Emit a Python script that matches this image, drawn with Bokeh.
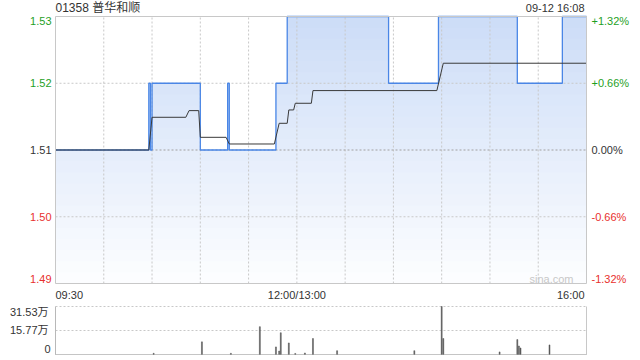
import numpy as np
from bokeh.plotting import figure
from bokeh.models import Range1d, Label
from bokeh.embed import file_html
from bokeh.resources import INLINE

# ---------------- data ----------------
title_text = "01358 普华和顺"
stamp_text = "09-12 16:08"
prev_close = 1.51

price_ticks = [1.53, 1.52, 1.51, 1.50, 1.49]
price_tick_labels = ["1.53", "1.52", "1.51", "1.50", "1.49"]
pct_tick_labels = ["+1.32%", "+0.66%", "0.00%", "-0.66%", "-1.32%"]

time_ticks = [0, 150, 330]          # trading minutes since 09:30 (lunch removed)
time_tick_labels = ["09:30", "12:00/13:00", "16:00"]

vol_ticks = [31.53, 15.77, 0]
vol_tick_labels = ["31.53万", "15.77万", "0"]

# last price: minute at which the price changes, and the new price
price_minute = [0, 58, 59, 60, 90, 107, 108, 137, 144, 207, 238, 287, 315, 330]
price_value = [1.51, 1.52, 1.51, 1.52, 1.51, 1.52, 1.51, 1.52, 1.53, 1.52, 1.53, 1.52, 1.53, 1.53]

# average price
avg_minute = [0, 58, 60, 81, 83, 89, 90, 106, 108, 136, 139, 144, 145, 148, 149, 159, 160, 237, 241, 330]
avg_value = [1.51, 1.51, 1.5149, 1.5149, 1.5159, 1.5159, 1.5119, 1.5119, 1.5109, 1.5109,
             1.5140, 1.5140, 1.5160, 1.5160, 1.5170, 1.5170, 1.5189, 1.5189, 1.5230, 1.5230]

# volume (万股)
vol_minute = [61, 91, 109, 127, 137, 139, 140, 145, 149, 155, 160, 175, 223, 240, 241, 276, 287, 288, 289, 307]
vol_value = [0.8, 8.3, 0.8, 18.3, 5.0, 2.3, 14.3, 7.6, 0.7, 1.0, 10.5, 2.5, 2.5, 31.53, 10.5, 1.7, 9.8, 5.6, 4.3, 6.3]

# ---------------- layout / styling ----------------
FONT = "Liberation Sans, Noto Sans CJK SC"
GREEN = "#1f9f1f"
RED = "#e8302e"
DARK = "#333333"
GRID = "#c8c8c8"
T0, T1 = 0, 330
YLO, YHI = 1.49, 1.53
VLO, VHI = 0, vol_ticks[0]

W, H = 640, 360
FX0, FX1 = 55, 586          # plotting area (pixels) inside the canvas
PY0, PY1 = 16, 283          # price panel top / bottom
VY0, VY1 = 306, 354         # volume panel top / bottom


def xr():
    k = (T1 - T0) / (FX1 - FX0)
    return Range1d(T0 - FX0 * k, T1 + (W - FX1) * k)


def yr(lo, hi, top, bot):
    k = (hi - lo) / (bot - top)
    return Range1d(lo - (H - bot) * k, hi + top * k)


p = figure(width=W, height=H, output_backend="svg", toolbar_location=None,
           x_axis_location=None, y_axis_location=None, title=None,
           x_range=xr(), y_range=yr(YLO, YHI, PY0, PY1), min_border=0)
p.extra_y_ranges = {"vol": yr(VLO, VHI, VY0, VY1)}
p.grid.visible = False
p.outline_line_color = None
p.background_fill_color = "white"
p.border_fill_color = "white"


def lab(x, y, text, align="left", xo=0, yo=0, size="11px", color=DARK, rng="default"):
    p.add_layout(Label(x=x, y=y, x_offset=xo, y_offset=yo, text=text, text_align=align,
                       text_baseline="middle", text_font_size=size, text_color=color,
                       text_font=FONT, y_range_name=rng))


# step coordinates of the price line
sx, sy = [price_minute[0]], [price_value[0]]
for t, val in zip(price_minute[1:], price_value[1:]):
    sx += [t, t]
    sy += [sy[-1], val]
sx = np.array(sx, dtype=float)
sy = np.array(sy, dtype=float)

# gradient fill under the price line (top band first, lower bands drawn over it)
nb = 24
edges = np.linspace(YLO, YHI, nb + 1)
top_rgb = np.array([204, 220, 247])
bot_rgb = np.array([253, 254, 255])
for i in range(nb - 1, -1, -1):
    f = (i + 0.5) / nb
    c = bot_rgb + (top_rgb - bot_rgb) * f
    col = "#%02x%02x%02x" % tuple(int(round(k)) for k in c)
    p.varea(x=sx, y1=np.full_like(sy, YLO), y2=np.minimum(sy, edges[i + 1]), fill_color=col, fill_alpha=1.0)

# grid lines
gx = [t for t in range(30, 330, 30)]
p.segment(x0=gx, y0=[YLO] * len(gx), x1=gx, y1=[YHI] * len(gx), line_color=GRID, line_dash="2 2", line_width=1)
p.segment(x0=[T0, T0], y0=[1.52, 1.50], x1=[T1, T1], y1=[1.52, 1.50], line_color=GRID, line_dash="2 2", line_width=1)
p.segment(x0=[T0], y0=[prev_close], x1=[T1], y1=[prev_close], line_color="#a0a0a0", line_dash="2 2", line_width=1)

# lines
p.line(sx, sy, line_color="#4a86e6", line_width=1.3)
p.line(avg_minute, avg_value, line_color="#3a3a3a", line_width=1)

# frame
p.quad(left=[T0], right=[T1], bottom=[YLO], top=[YHI], fill_color=None, line_color=GRID, line_width=1)

# tick labels
for i, (val, tl, pl) in enumerate(zip(price_ticks, price_tick_labels, pct_tick_labels)):
    col = GREEN if val > prev_close + 1e-9 else (RED if val < prev_close - 1e-9 else DARK)
    yo = -4 if i == 0 else (5 if i == len(price_ticks) - 1 else 0)
    lab(T0, val, tl, "right", xo=-4, yo=yo, color=col)
    lab(T1, val, pl, "left", xo=5, yo=yo, color=col)

for t, tl, al in zip(time_ticks, time_tick_labels, ["left", "center", "right"]):
    lab(t, YLO, tl, al, xo=(-2 if al == "right" else 0), yo=-11)

lab(T0, YHI, title_text, "left", yo=9, size="12px")
lab(T1, YHI, stamp_text, "right", xo=-2, yo=9)
lab(T1, YLO, "sina.com", "right", xo=-13, yo=5, color="#c8c8c8")

# ---------------- volume panel ----------------
p.segment(x0=[T0, T0], y0=[vol_ticks[0], vol_ticks[1]], x1=[T1, T1], y1=[vol_ticks[0], vol_ticks[1]],
          line_color=GRID, line_dash="2 2", line_width=1, y_range_name="vol")
p.vbar(x=vol_minute, top=vol_value, bottom=0, width=0.6, fill_color="#555555", line_color="#555555",
       line_width=0.5, y_range_name="vol")
p.segment(x0=[T0], y0=[VLO], x1=[T1], y1=[VLO], line_color="#8a8a8a", line_dash="1 1", line_width=1,
          y_range_name="vol")
p.segment(x0=[T0, T1], y0=[VLO, VLO], x1=[T0, T1], y1=[VHI, VHI], line_color=["#b8b8b8", GRID], line_width=1,
          y_range_name="vol")

for i, (val, tl) in enumerate(zip(vol_ticks, vol_tick_labels)):
    yo = -5 if i == 0 else (6 if i == len(vol_ticks) - 1 else 0)
    lab(T0, val, tl, "right", xo=(-7 if i < 2 else -5), yo=yo, rng="vol")

open("out.html", "w").write(file_html(p, INLINE))
